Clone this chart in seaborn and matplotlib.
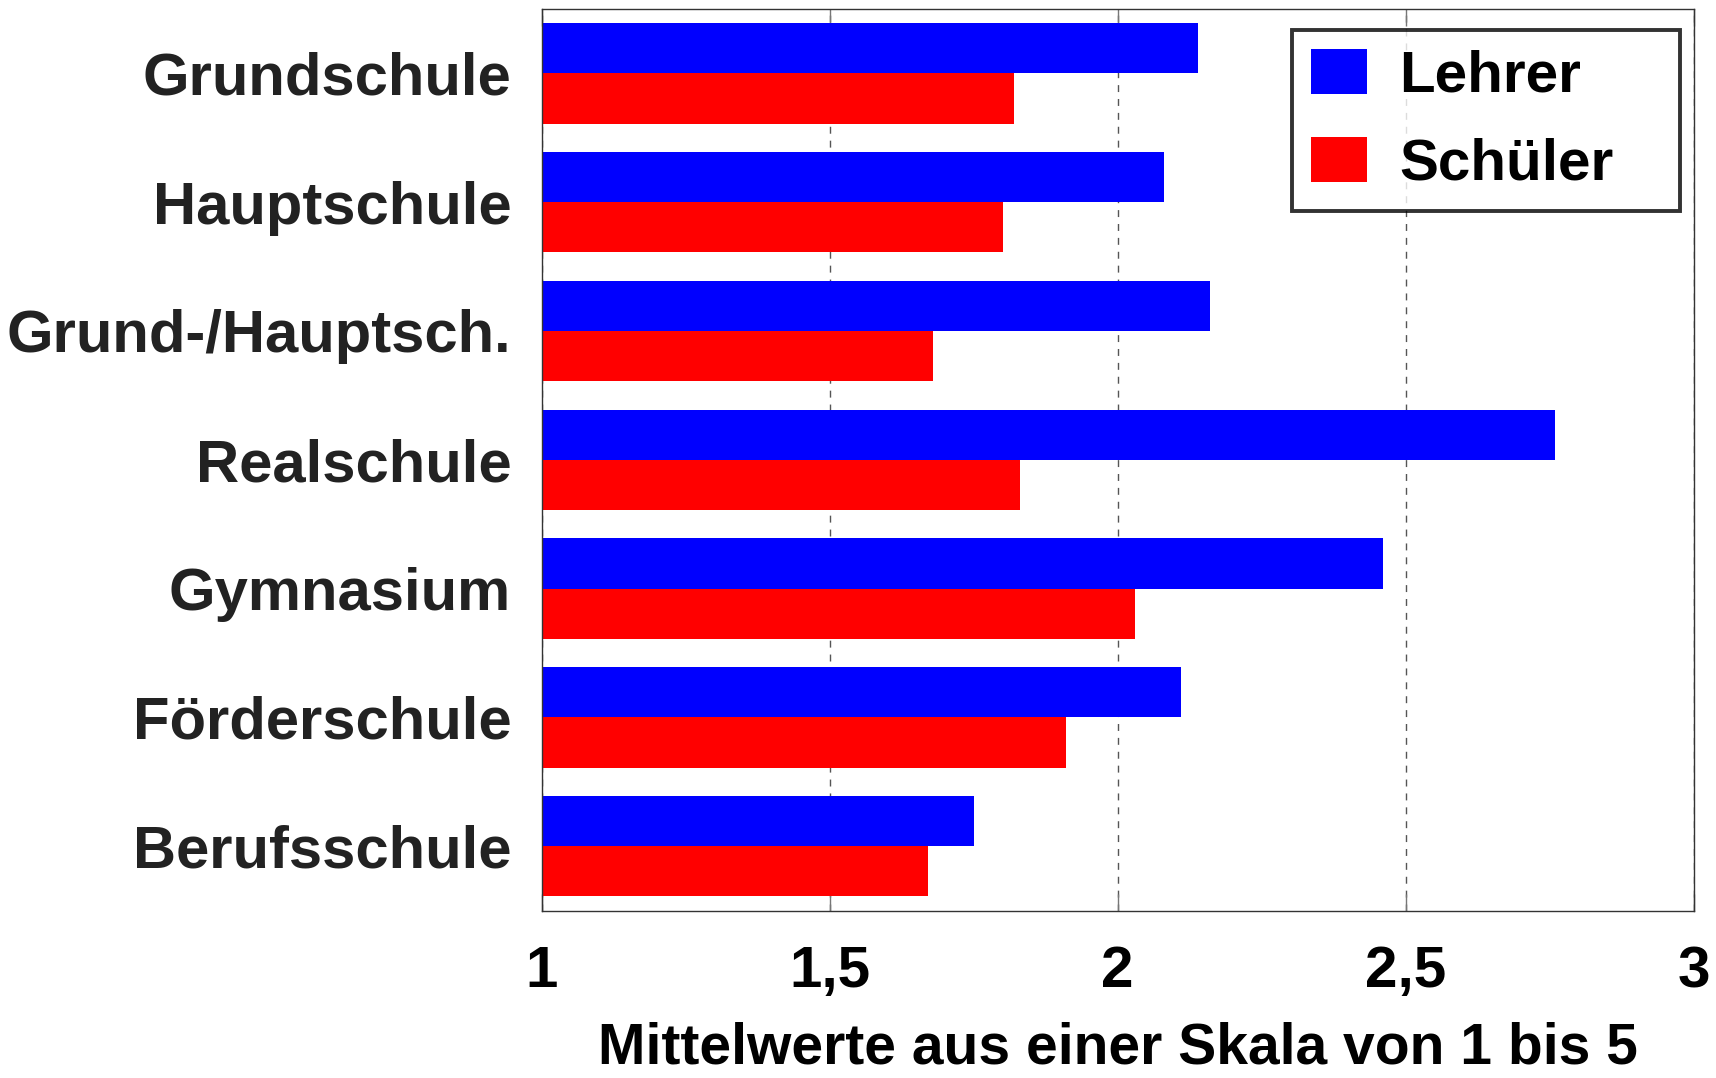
import pandas as pd
import seaborn as sns
import matplotlib.pyplot as plt

# Data
schools = ['Grundschule', 'Hauptschule', 'Grund-/Hauptsch.', 'Realschule',
           'Gymnasium', 'Förderschule', 'Berufsschule']
lehrer = [2.14, 2.08, 2.16, 2.76, 2.46, 2.11, 1.75]
schueler = [1.82, 1.80, 1.68, 1.83, 2.03, 1.91, 1.67]
groups = ['Lehrer', 'Schüler']
xticks = [1, 1.5, 2, 2.5, 3]
xticklabels = ['1', '1,5', '2', '2,5', '3']

df = pd.DataFrame({
    'Schule': schools * 2,
    'Wert': lehrer + schueler,
    'Gruppe': [groups[0]] * len(schools) + [groups[1]] * len(schools),
})

sns.set_style('white')
plt.rcParams['font.family'] = ['Liberation Sans', 'DejaVu Sans']

fig = plt.figure(figsize=(17.16, 10.78), dpi=100)
ax = fig.add_axes([0.3157, 0.1553, 0.6713, 0.8364])

sns.barplot(data=df, y='Schule', x='Wert', hue='Gruppe', orient='h',
            palette=['#0000ff', '#ff0000'], saturation=1, width=0.78,
            linewidth=0, ax=ax)

ax.set_xlim(1, 3)
ax.set_ylim(6.5, -0.5)
ax.set_xticks(xticks)
ax.set_xticklabels(xticklabels, fontsize=42, fontweight='bold', color='black')
ax.tick_params(axis='x', direction='in', length=12, width=1, color='#777777',
               top=True, bottom=True, pad=25)
ax.tick_params(axis='y', length=0, pad=22)
for lbl in ax.get_yticklabels():
    lbl.set_fontsize(43)
    lbl.set_fontweight('bold')
    lbl.set_color('#222222')

ax.xaxis.grid(True, linestyle=(0, (5, 5)), color='#555555', linewidth=1)
ax.set_axisbelow(True)
for s in ax.spines.values():
    s.set_visible(True)
    s.set_color('#333333')
    s.set_linewidth(1)

ax.set_ylabel('')
ax.set_xlabel('Mittelwerte aus einer Skala von 1 bis 5', fontsize=41,
              fontweight='bold', color='black', labelpad=16)

leg = ax.legend(loc='upper left', bbox_to_anchor=(0.6515, 0.7816, 0.337, 0.1954),
                mode='expand', frameon=True, fancybox=False, edgecolor='black',
                prop={'weight': 'bold', 'size': 42},
                handlelength=0.95, handleheight=0.8, handletextpad=0.55,
                labelspacing=0.58, borderpad=0.33, borderaxespad=0)
leg.get_frame().set_linewidth(2.8)
for t in leg.get_texts():
    t.set_color('black')

fig.savefig('out.png', dpi=100)
